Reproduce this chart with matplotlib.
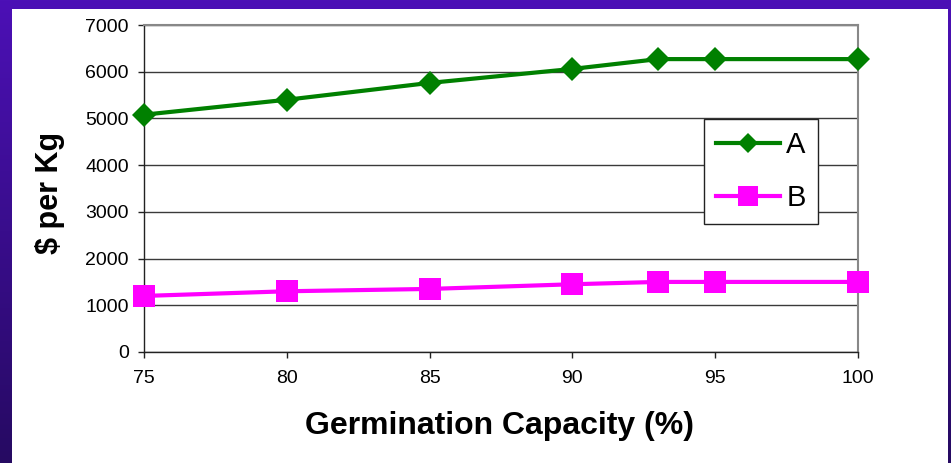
import numpy as np
import matplotlib
matplotlib.use('Agg')
import matplotlib.pyplot as plt
from matplotlib.lines import Line2D
from matplotlib.patches import Rectangle

# Data
germination = [75, 80, 85, 90, 93, 95, 100]
price_a = [5080, 5400, 5760, 6060, 6270, 6270, 6270]
price_b = [1200, 1300, 1350, 1450, 1500, 1500, 1500]
x_ticks = [75, 80, 85, 90, 95, 100]
y_ticks = [0, 1000, 2000, 3000, 4000, 5000, 6000, 7000]

plt.rcParams['font.family'] = ['Liberation Sans', 'DejaVu Sans']

W, H = 951, 463
fig = plt.figure(figsize=(W / 100, H / 100), dpi=100)

# purple gradient backdrop
bg = fig.add_axes([0, 0, 1, 1], zorder=-10)
grad = np.linspace(0, 1, 256).reshape(-1, 1)
top = np.array([0x4c, 0x10, 0xb6]) / 255
bot = np.array([0x26, 0x0a, 0x62]) / 255
img = top[None, None, :] * (1 - grad[:, :, None]) + bot[None, None, :] * grad[:, :, None]
bg.imshow(img, aspect='auto', extent=[0, 1, 0, 1])
bg.add_patch(Rectangle((12 / W, 0), 936 / W, 454 / H, facecolor='white', edgecolor='none'))
bg.set_xlim(0, 1)
bg.set_ylim(0, 1)
bg.axis('off')

ax = fig.add_axes([144 / W, 1 - 352 / H, 714 / W, 327 / H])
ax.set_facecolor('none')

ax.plot(germination, price_a, color='#008000', lw=3, marker='D', markersize=12,
        markeredgewidth=0, clip_on=False, zorder=5)
ax.plot(germination, price_b, color='#ff00ff', lw=3, marker='s', markersize=16,
        markeredgewidth=0, clip_on=False, zorder=5)

ax.set_xlim(75, 100)
ax.set_ylim(0, 7000)
ax.set_xticks(x_ticks)
ax.set_yticks(y_ticks)
ax.yaxis.grid(True, color='#3a3a3a', lw=1)
ax.set_axisbelow(True)

for side in ['top', 'right']:
    ax.spines[side].set_color('#888888')
    ax.spines[side].set_linewidth(1.5)
for side in ['left', 'bottom']:
    ax.spines[side].set_color('#222222')
    ax.spines[side].set_linewidth(1)

ax.tick_params(axis='both', direction='out', length=4.3, width=1, color='#222222',
               labelsize=14)
ax.tick_params(axis='y', pad=6.5)
ax.tick_params(axis='x', pad=8.4)

fig.text(500 / W, 1 - 434 / H, 'Germination Capacity (%)', fontsize=23,
         fontweight='bold', ha='center', va='baseline')
fig.text(50 / W, 1 - 193 / H, '$ per Kg', fontsize=22, fontweight='bold',
         rotation=90, ha='center', va='center')

handles = [
    Line2D([], [], color='#008000', lw=3, marker='D', markersize=10.5, markeredgewidth=0),
    Line2D([], [], color='#ff00ff', lw=3, marker='s', markersize=14, markeredgewidth=0),
]
leg = fig.legend(handles, ['A', 'B'], loc='upper left',
                 bbox_to_anchor=(704 / W, 1 - 119 / H), borderaxespad=0,
                 fontsize=21, frameon=True, fancybox=False, framealpha=1,
                 edgecolor='#222222', handlelength=2.2, handletextpad=0.2,
                 borderpad=0.42, labelspacing=0.85)
leg.get_frame().set_linewidth(1)

fig.savefig('out.png', dpi=100)
